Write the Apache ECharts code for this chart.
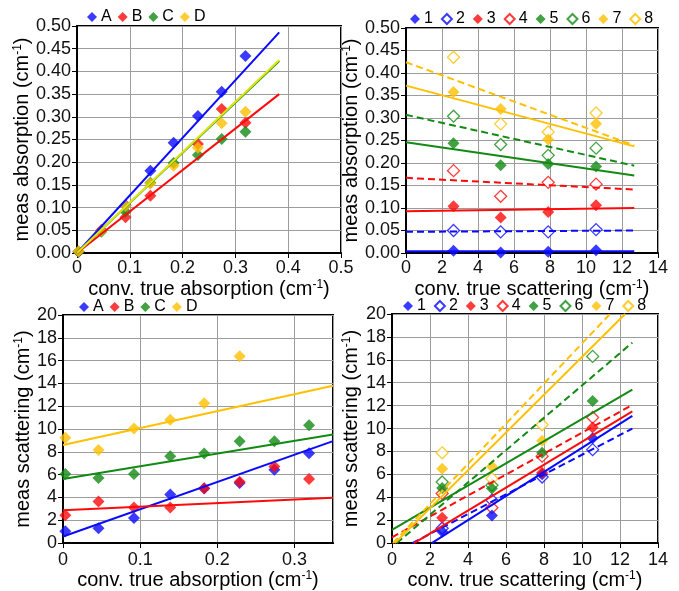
<!DOCTYPE html>
<html><head><meta charset="utf-8">
<script src="https://cdn.jsdelivr.net/npm/echarts@6/dist/echarts.min.js"></script>
<style>html,body{margin:0;padding:0;background:#fff}#c{width:679px;height:591px}</style>
</head><body><div id="c"></div>
<script>
// ---------- data ----------
const absX = [0.003, 0.046, 0.092, 0.139, 0.183, 0.229, 0.274, 0.319];
const absNames = ['A', 'B', 'C', 'D'];
// panel 1: measured absorption vs conv. true absorption
const absA = [0.003, 0.050, 0.105, 0.181, 0.243, 0.302, 0.355, 0.434];
const absB = [0.003, 0.050, 0.079, 0.126, null, 0.240, 0.317, 0.287];
const absC = [0.003, 0.047, 0.091, 0.155, 0.198, 0.216, 0.251, 0.267];
const absD = [0.004, 0.049, 0.104, 0.153, 0.192, 0.232, 0.286, 0.311];
// fit lines [x0, y0, x1, y1]
const absFitA = [0, 0, 0.383, 0.486];
const absFitB = [0, 0, 0.383, 0.350];
const absFitC = [0, 0, 0.383, 0.423];
const absFitD = [0, 0, 0.383, 0.425];

// panel 3: measured scattering vs conv. true absorption
const scaA = [1.04, 1.30, 2.19, 4.27, 4.79, 5.28, 6.43, 7.88];
const scaB = [2.45, 3.64, 3.12, 3.12, 4.80, 5.37, 6.72, 5.63];
const scaC = [6.06, 5.71, 6.06, 7.62, 7.85, 8.94, 8.94, 10.33];
const scaD = [9.24, 8.17, 10.04, 10.82, 12.27, 16.39, null, null];
const scaFitA = [0, 0.58, 0.35, 8.94];
const scaFitB = [0, 2.89, 0.35, 3.98];
const scaFitC = [0, 5.63, 0.35, 9.52];
const scaFitD = [0, 8.60, 0.35, 13.79];

// panel 2: measured absorption vs conv. true scattering
const scatX = [2.64, 5.26, 7.90, 10.56];
const scatNames = ['1', '2', '3', '4', '5', '6', '7', '8'];
const ab1 = [0.005, 0.001, 0.003, 0.006];
const ab2 = [0.050, 0.047, 0.047, 0.052];
const ab3 = [0.104, 0.079, 0.091, 0.106];
const ab4 = [0.183, 0.126, 0.157, 0.153];
const ab5 = [0.244, 0.195, 0.198, 0.192];
const ab6 = [0.304, 0.241, 0.217, 0.233];
const ab7 = [0.358, 0.320, 0.252, 0.287];
const ab8 = [0.435, 0.287, 0.269, 0.311];
const abFit1 = [0, 0.004, 12.68, 0.004];
const abFit2 = [0, 0.047, 12.68, 0.050];
const abFit3 = [0, 0.093, 12.68, 0.100];
const abFit4 = [0, 0.167, 12.68, 0.141];
const abFit5 = [0, 0.246, 12.68, 0.172];
const abFit6 = [0, 0.307, 12.68, 0.194];
const abFit7 = [0, 0.372, 12.68, 0.237];
const abFit8 = [0, 0.424, 12.68, 0.239];

// panel 4: measured scattering vs conv. true scattering
const sc1 = [1.01, 2.40, 6.00, 9.15];
const sc2 = [1.30, 3.75, 5.77, 8.16];
const sc3 = [2.22, null, 6.15, 10.10];
const sc4 = [4.33, 3.09, 7.59, 10.97];
const sc5 = [4.82, 4.76, 7.88, 12.40];
const sc6 = [5.34, 5.05, null, 16.30];
const sc7 = [6.49, 6.69, 8.94, null];
const sc8 = [7.88, 5.63, 10.33, null];
const scFit1 = [2.09, 0, 12.65, 11.1];
const scFit2 = [1.07, 0, 12.65, 10.0];
const scFit3 = [1.16, 0, 12.65, 11.5];
const scFit4 = [0, 0.50, 12.65, 12.06];
const scFit5 = [0, 1.15, 12.65, 13.4];
const scFit6 = [0.25, 0, 12.65, 17.5];
const scFit7 = [0.15, 0, 12.27, 20];
const scFit8 = [0.05, 0, 11.47, 20];

// ---------- styling ----------
const FONT = '"Liberation Sans", Arial, sans-serif';
const BLUE = '#0a0aff', RED = '#ff0a0a', GREEN = '#138a13', GOLD = '#ffc000', LIME = '#e2e410';
const colors4 = [BLUE, RED, GREEN, GOLD];
const colors8 = [BLUE, BLUE, RED, RED, GREEN, GREEN, GOLD, GOLD];

function pts(xs, ys) {
  const out = [];
  xs.forEach((x, i) => { if (ys[i] != null) out.push([x, ys[i]]); });
  return out;
}
function scat(name, xs, ys, color, hollow, gi) {
  return {
    type: 'scatter', name, xAxisIndex: gi, yAxisIndex: gi,
    symbol: 'diamond', symbolSize: 12, data: pts(xs, ys),
    itemStyle: hollow ? { color: '#fff', borderColor: color, borderWidth: 1.3 } : { color },
    z: hollow ? 3 : 4, emphasis: { disabled: true }
  };
}
function fit(name, seg, color, dashed, gi) {
  return {
    type: 'line', name, xAxisIndex: gi, yAxisIndex: gi,
    data: [[seg[0], seg[1]], [seg[2], seg[3]]],
    symbol: 'none', showSymbol: false, silent: true, z: 5,
    lineStyle: { color, width: 2, type: dashed ? [7, 4] : 'solid' },
    emphasis: { disabled: true }
  };
}
const richName = {
  t: { fontSize: 20, color: '#000', fontFamily: FONT },
  s: { fontSize: 12, color: '#000', fontFamily: FONT, verticalAlign: 'top' }
};
function axis(gi, min, max, interval, name, gap, fmt, extraLabel) {
  return {
    type: 'value', gridIndex: gi, min, max, interval,
    name, nameLocation: 'middle', nameGap: gap,
    nameTextStyle: { rich: richName },
    axisLine: { show: true, onZero: false, lineStyle: { color: '#000', width: 2 } },
    axisTick: { show: true, inside: false, length: 5, lineStyle: { color: '#000', width: 1 } },
    axisLabel: Object.assign({ fontSize: 18, color: '#111', fontFamily: FONT, margin: 6, formatter: fmt }, extraLabel || {}),
    splitLine: { show: true, lineStyle: { color: '#9c9c9c', width: 1 } }
  };
}
const f2 = v => v.toFixed(2);
const f1 = v => (v === 0 ? '0' : v.toFixed(1));
const f0 = v => String(Math.round(v));

const gridBase = { show: true, borderColor: '#000', borderWidth: 2, backgroundColor: '#fff', containLabel: false };
const grids = [
  Object.assign({ left: 77, top: 26, width: 264, height: 227 }, gridBase),
  Object.assign({ left: 406, top: 28, width: 252, height: 225 }, gridBase),
  Object.assign({ left: 63, top: 315, width: 270, height: 231 }, gridBase),
  Object.assign({ left: 392, top: 314, width: 266, height: 231 }, gridBase)
];

const xAxes = [
  axis(0, 0, 0.5, 0.1, '{t|conv. true absorption (cm}{s|-1}{t|)}', 26, f1),
  axis(1, 0, 14, 2, '{t|conv. true scattering (cm}{s|-1}{t|)}', 26, f0),
  axis(2, 0, 0.35, 0.1, '{t|conv. true absorption (cm}{s|-1}{t|)}', 16, f1, { showMaxLabel: false, margin: 8 }),
  axis(3, 0, 14, 2, '{t|conv. true scattering (cm}{s|-1}{t|)}', 16, f0, { margin: 8 })
];
const yAxes = [
  axis(0, 0, 0.5, 0.05, '{t|meas absorption (cm}{s|-1}{t|)}', 41, f2),
  axis(1, 0, 0.5, 0.05, '{t|meas absorption (cm}{s|-1}{t|)}', 44, f2),
  axis(2, 0, 20, 2, '{t|meas scattering (cm}{s|-1}{t|)}', 27, f0),
  axis(3, 0, 20, 2, '{t|meas scattering (cm}{s|-1}{t|)}', 31, f0)
];

const series = [];
// panel 1
const p1Vals = [absA, absB, absC, absD];
const p1Fits = [absFitA, absFitB, absFitC, absFitD];
const p1FitColors = [BLUE, RED, GREEN, LIME];
p1Fits.forEach((s, i) => series.push(fit('fitAbs' + absNames[i], s, p1FitColors[i], false, 0)));
p1Vals.forEach((v, i) => series.push(scat(absNames[i], absX, v, colors4[i], false, 0)));
// panel 2
const p2Vals = [ab1, ab2, ab3, ab4, ab5, ab6, ab7, ab8];
const p2Fits = [abFit1, abFit2, abFit3, abFit4, abFit5, abFit6, abFit7, abFit8];
p2Fits.forEach((s, i) => series.push(fit('fitAb' + scatNames[i], s, colors8[i], i % 2 === 1, 1)));
p2Vals.forEach((v, i) => series.push(scat(scatNames[i], scatX, v, colors8[i], i % 2 === 1, 1)));
// panel 3
const p3Vals = [scaA, scaB, scaC, scaD];
const p3Fits = [scaFitA, scaFitB, scaFitC, scaFitD];
p3Fits.forEach((s, i) => series.push(fit('fitSca' + absNames[i], s, colors4[i], false, 2)));
p3Vals.forEach((v, i) => series.push(scat(absNames[i], absX, v, colors4[i], false, 2)));
// panel 4
const p4Vals = [sc1, sc2, sc3, sc4, sc5, sc6, sc7, sc8];
const p4Fits = [scFit1, scFit2, scFit3, scFit4, scFit5, scFit6, scFit7, scFit8];
p4Fits.forEach((s, i) => series.push(fit('fitSc' + scatNames[i], s, colors8[i], i % 2 === 1, 3)));
p4Vals.forEach((v, i) => series.push(scat(scatNames[i], scatX, v, colors8[i], i % 2 === 1, 3)));

function legend(data, left, top, gap) {
  return {
    data, left, top, orient: 'horizontal', icon: 'diamond', itemWidth: 10, itemHeight: 10,
    itemGap: gap, selectedMode: false, padding: 0,
    textStyle: { fontSize: 16, color: '#000', fontFamily: FONT, padding: [0, 0, 0, -1] }
  };
}

const option = {
  animation: false,
  backgroundColor: '#fff',
  grid: grids,
  xAxis: xAxes,
  yAxis: yAxes,
  legend: [
    legend(absNames, 87, 9, 6),
    legend(scatNames, 410, 11, 8),
    legend(absNames, 79, 299, 6),
    legend(scatNames, 403, 298, 8)
  ],
  series
};
const chart = echarts.init(document.getElementById('c'), null, { renderer: 'canvas' });
chart.setOption(option);
</script>
</body></html>
